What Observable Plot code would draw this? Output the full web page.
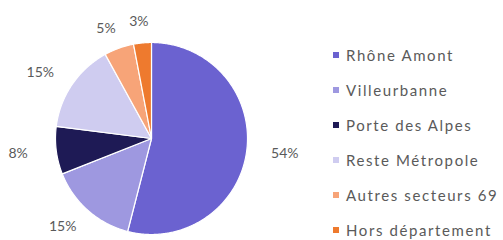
<!DOCTYPE html>
<html><head><meta charset="utf-8">
<script src="https://cdn.jsdelivr.net/npm/d3@7"></script>
<script src="https://cdn.jsdelivr.net/npm/@observablehq/plot@0.6"></script>
<style>
html,body{margin:0;padding:0;background:#fff;}
#chart{position:relative;width:503px;height:240px;overflow:hidden;}
#legend{position:absolute;left:333px;top:37px;font-family:Lato,"Open Sans",sans-serif;font-size:15px;color:#5a5a5a;}
.li{display:flex;align-items:center;height:35px;line-height:18px;margin:0;white-space:nowrap;letter-spacing:1.6px;}
.sw{width:6px;height:6px;margin-right:7px;flex:none;}
</style>
</head><body>
<div id="chart"></div>
<script>
const categories = ["Rhône Amont","Villeurbanne","Porte des Alpes","Reste Métropole","Autres secteurs 69","Hors département"];
const values = [54, 15, 8, 15, 5, 3];
const labels = ["54%","15%","8%","15%","5%","3%"];
const colors = ["#6b62d0","#9e98e0","#1e1a55","#cfccf0","#f7a478","#ee7a2e"];

const pie = d3.pie().sort(null).value(d => d)(values);
// slice outlines in unit coordinates (angle clockwise from top)
const pts = [];
pie.forEach((p, i) => {
  const n = Math.max(2, Math.ceil((p.endAngle - p.startAngle) / 0.01));
  pts.push({cat: categories[i], x: 0, y: 0});
  for (let k = 0; k <= n; k++) {
    const a = p.startAngle + (p.endAngle - p.startAngle) * k / n;
    pts.push({cat: categories[i], x: Math.sin(a), y: Math.cos(a)});
  }
  pts.push({cat: categories[i], x: 0, y: 0});
});
const lab = pie.map((p, i) => {
  const a = (p.startAngle + p.endAngle) / 2;
  return {t: labels[i], x: 1.4 * Math.sin(a), y: 1.22 * Math.cos(a)};
});

const plot = Plot.plot({
  width: 503, height: 240,
  marginLeft: 55, marginRight: 256, marginTop: 42, marginBottom: 6,
  x: {domain: [-1, 1], axis: null},
  y: {domain: [-1, 1], axis: null},
  color: {domain: categories, range: colors},
  style: {background: "#fff", overflow: "visible"},
  marks: [
    Plot.line(pts, {x: "x", y: "y", z: "cat", fill: "cat", stroke: "#fff", strokeWidth: 1.2, curve: "linear"}),
    Plot.text(lab, {x: "x", y: "y", text: "t", fill: "#5a5a5a", fontSize: 14, fontFamily: "Lato, 'Open Sans', sans-serif", textAnchor: "middle", letterSpacing: 1.2})
  ]
});
document.getElementById("chart").appendChild(plot);

const leg = document.createElement("div");
leg.id = "legend";
categories.forEach((c, i) => {
  const row = document.createElement("div");
  row.className = "li";
  const sw = document.createElement("span");
  sw.className = "sw"; sw.style.background = colors[i];
  row.appendChild(sw);
  row.appendChild(document.createTextNode(c));
  leg.appendChild(row);
});
document.getElementById("chart").appendChild(leg);
</script>
</body></html>
